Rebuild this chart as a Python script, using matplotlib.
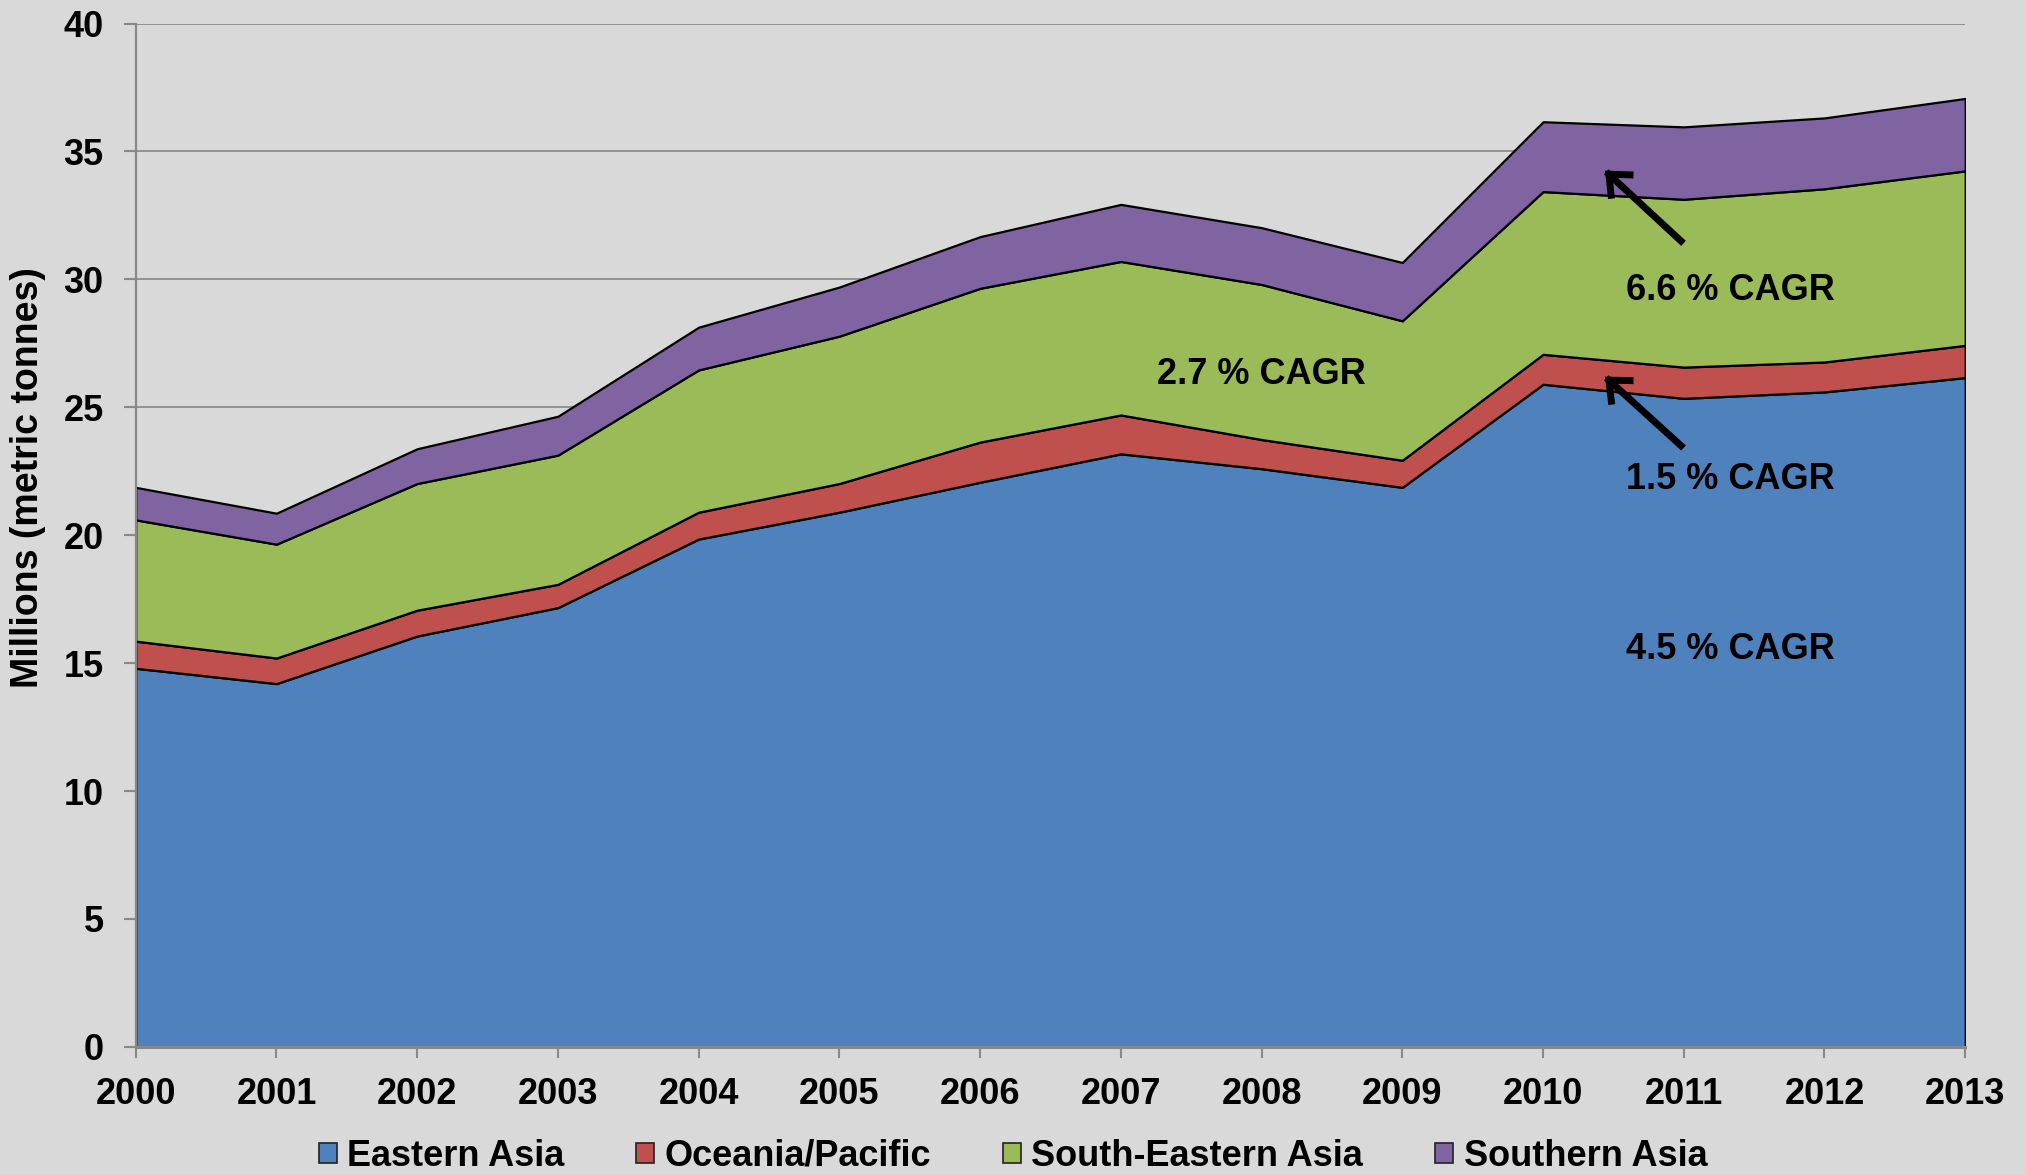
import matplotlib
matplotlib.use("Agg")
import matplotlib.pyplot as plt
import numpy as np

plt.rcParams['font.family'] = ['Liberation Sans', 'DejaVu Sans']
plt.rcParams['font.weight'] = 'bold'

years = [2000, 2001, 2002, 2003, 2004, 2005, 2006, 2007, 2008, 2009, 2010, 2011, 2012, 2013]
# cumulative tops
eastern_top = [14.80, 14.20, 16.06, 17.17, 19.85, 20.90, 22.07, 23.18, 22.60, 21.87, 25.90, 25.35, 25.60, 26.16]
oceania_top = [15.86, 15.20, 17.07, 18.08, 20.90, 22.02, 23.64, 24.70, 23.74, 22.93, 27.07, 26.57, 26.77, 27.42]
se_asia_top = [20.60, 19.65, 22.02, 23.13, 26.46, 27.78, 29.65, 30.70, 29.80, 28.38, 33.43, 33.13, 33.54, 34.24]
s_asia_top = [21.87, 20.86, 23.38, 24.65, 28.13, 29.70, 31.67, 32.93, 32.02, 30.66, 36.16, 35.96, 36.31, 37.07]

eastern_asia = list(np.array(eastern_top))
oceania_pacific = list(np.array(oceania_top) - np.array(eastern_top))
south_eastern_asia = list(np.array(se_asia_top) - np.array(oceania_top))
southern_asia = list(np.array(s_asia_top) - np.array(se_asia_top))

series_names = ["Eastern Asia", "Oceania/Pacific", "South-Eastern Asia", "Southern Asia"]
colors = ["#4F81BD", "#C0504D", "#9BBB59", "#8064A2"]
cagr_labels = ["4.5 % CAGR", "1.5 % CAGR", "2.7 % CAGR", "6.6 % CAGR"]

bg = "#D9D9D9"
fig = plt.figure(figsize=(20.26, 11.75), dpi=100, facecolor=bg)
ax = fig.add_axes([0.067, 0.109, 0.903, 0.871], facecolor=bg)

polys = ax.stackplot(years, eastern_asia, oceania_pacific, south_eastern_asia, southern_asia,
                     colors=colors, edgecolor="black", linewidth=1.6, labels=series_names, zorder=2)

ax.set_xlim(2000, 2013)
ax.set_ylim(0, 40)
ax.set_yticks(np.arange(0, 41, 5))
ax.set_xticks(years)
ax.set_xticklabels([str(y) for y in years])

ax.yaxis.grid(True, color="#868686", linewidth=1.2, zorder=1)
ax.set_axisbelow(True)
for s in ["top", "right"]:
    ax.spines[s].set_visible(False)
ax.spines["left"].set_color("#888888")
ax.spines["left"].set_linewidth(1.6)
ax.spines["bottom"].set_color("#888888")
ax.spines["bottom"].set_linewidth(2.2)
ax.spines["left"].set_zorder(5)
ax.spines["bottom"].set_zorder(5)

ax.tick_params(axis="y", direction="out", length=9, width=1.5, color="#888888",
               labelsize=26, pad=14)
ax.tick_params(axis="x", direction="out", length=8, width=1.5, color="#888888",
               labelsize=26, pad=14)
for lab in ax.get_xticklabels() + ax.get_yticklabels():
    lab.set_fontweight("bold")

ax.set_ylabel("Millions (metric tonnes)", fontsize=27, fontweight="bold")
ax.yaxis.set_label_coords(-0.049, 0.556)

# CAGR annotations
ax.text(2011.33, 15.55, cagr_labels[0], fontsize=26, fontweight="bold", ha="center", va="center", zorder=6)
ax.text(2011.33, 22.19, cagr_labels[1], fontsize=26, fontweight="bold", ha="center", va="center", zorder=6)
ax.text(2008.0, 26.27, cagr_labels[2], fontsize=26, fontweight="bold", ha="center", va="center", zorder=6)
ax.text(2011.33, 29.57, cagr_labels[3], fontsize=26, fontweight="bold", ha="center", va="center", zorder=6)

arrow_kw = dict(arrowstyle="->,head_length=1.15,head_width=1.0", color="black", lw=5,
                shrinkA=0, shrinkB=0, capstyle="projecting", joinstyle="miter")
ax.annotate("", xy=(2010.44, 34.25), xytext=(2010.98, 31.5), arrowprops=arrow_kw, zorder=6)
ax.annotate("", xy=(2010.44, 26.2), xytext=(2010.98, 23.5), arrowprops=arrow_kw, zorder=6)

leg = fig.legend(handles=polys, labels=series_names, loc="lower center", bbox_to_anchor=(0.5, 0.001),
                 ncol=4, frameon=False, handlelength=0.5, handleheight=0.5,
                 handletextpad=0.28, columnspacing=2.0, borderpad=0, borderaxespad=0,
                 prop={"weight": "bold", "size": 26})
for h in leg.legend_handles:
    h.set_linewidth(1.2)
    h.set_edgecolor("#222222")

fig.savefig("out.png", dpi=100, facecolor=bg)
